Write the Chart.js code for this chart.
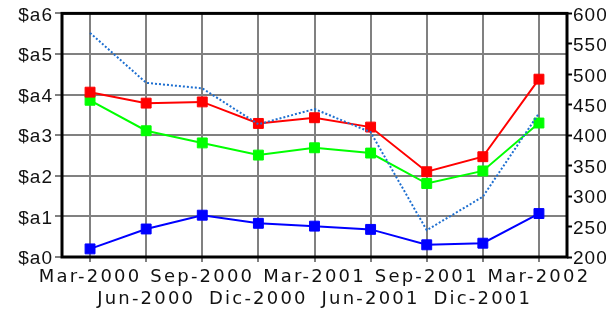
<!DOCTYPE html>
<html>
<head>
<meta charset="utf-8">
<script src="https://cdn.jsdelivr.net/npm/chart.js@4"></script>
<style>
  body { margin: 0; background: #fff; }
</style>
</head>
<body>
<canvas id="myChart" width="606" height="310"></canvas>
<script>
// DATA
const months = ['Mar-2000', 'Jun-2000', 'Sep-2000', 'Dic-2000', 'Mar-2001', 'Jun-2001', 'Sep-2001', 'Dic-2001', 'Mar-2002']
const redValues = [4.06, 3.79, 3.82, 3.29, 3.43, 3.2, 2.1, 2.47, 4.38]
const greenValues = [3.86, 3.11, 2.81, 2.51, 2.69, 2.56, 1.81, 2.12, 3.3]
const blueValues = [0.2, 0.69, 1.03, 0.83, 0.76, 0.68, 0.3, 0.34, 1.07]
const dottedValues = [568, 486, 477, 418, 443, 405, 244, 299, 436]
const leftTicks = { min: 0, max: 6, step: 0.5 }
const rightTicks = { min: 200, max: 600, step: 50 }

// alternate labels on two rows
const labels = months.map((m, i) => (i % 2 === 0 ? [m, ''] : ['', m]))

const isMajor = ctx => ctx.tick && ctx.tick.value % 1 === 0

// black frame round the plot area
const framePlugin = {
  id: 'frame',
  beforeDatasetsDraw(chart) {
    const { ctx, chartArea } = chart
    ctx.save()
    ctx.strokeStyle = '#000'
    ctx.lineWidth = 3
    ctx.strokeRect(chartArea.left, chartArea.top, chartArea.right - chartArea.left, chartArea.bottom - chartArea.top)
    ctx.restore()
  }
}

// spaced out letters on all tick labels
const spacingPlugin = {
  id: 'spacing',
  afterLayout(chart) {
    Object.values(chart.scales).forEach(s => {
      if (s._patched) return
      const orig = s.drawLabels
      s.drawLabels = function (area) {
        this.ctx.save()
        this.ctx.letterSpacing = s.axis === 'x' ? '2.2px' : '1px'
        orig.call(this, area)
        this.ctx.restore()
      }
      s._patched = true
    })
  }
}

const lineSet = (values, color) => ({
  data: values,
  borderColor: color,
  backgroundColor: color,
  borderWidth: 2,
  pointStyle: 'rect',
  pointRadius: 7,
  pointBorderWidth: 1,
  yAxisID: 'y'
})

const data = {
  labels: labels,
  datasets: [
    {
      data: dottedValues,
      borderColor: '#1e6fd0',
      borderWidth: 2,
      borderDash: [2, 2],
      pointRadius: 0,
      yAxisID: 'y1'
    },
    lineSet(redValues, '#ff0000'),
    lineSet(greenValues, '#00ff00'),
    lineSet(blueValues, '#0000ff')
  ]
}

const config = {
  type: 'line',
  data: data,
  options: {
    responsive: false,
    animation: false,
    layout: { padding: { top: 13, left: 0, right: 0, bottom: 0 } },
    plugins: {
      legend: { display: false },
      tooltip: { enabled: false }
    },
    scales: {
      x: {
        offset: true,
        grid: { color: '#808080', lineWidth: 2, tickLength: 5 },
        border: { display: false },
        ticks: {
          autoSkip: false,
          maxRotation: 0,
          padding: 4,
          color: '#111',
          font: { family: 'DejaVu Sans', size: 18, lineHeight: 1.22 }
        },
        afterFit: s => { s.height = 53 }
      },
      y: {
        position: 'left',
        min: leftTicks.min,
        max: leftTicks.max,
        grid: {
          color: ctx => (isMajor(ctx) ? '#808080' : '#d4d4d4'),
          lineWidth: 2,
          tickLength: 7
        },
        border: {
          display: false,
          dash: ctx => (isMajor(ctx) ? [] : [2, 3])
        },
        ticks: {
          stepSize: leftTicks.step,
          padding: 2,
          labelOffset: 2,
          color: '#111',
          font: { family: 'Liberation Sans', size: 19 },
          callback: v => (v % 1 === 0 ? '$a' + v : '')
        },
        afterFit: s => { s.width = 62 }
      },
      y1: {
        position: 'right',
        min: rightTicks.min,
        max: rightTicks.max,
        grid: { drawOnChartArea: false, tickColor: '#000', tickWidth: 2, tickLength: 5 },
        border: { display: false },
        ticks: {
          stepSize: rightTicks.step,
          padding: 1,
          labelOffset: 2,
          color: '#111',
          font: { family: 'Liberation Sans', size: 19 }
        },
        afterFit: s => { s.width = 39 }
      }
    }
  },
  plugins: [framePlugin, spacingPlugin]
}

const myChart = new Chart(document.getElementById('myChart'), config)
</script>
</body>
</html>
